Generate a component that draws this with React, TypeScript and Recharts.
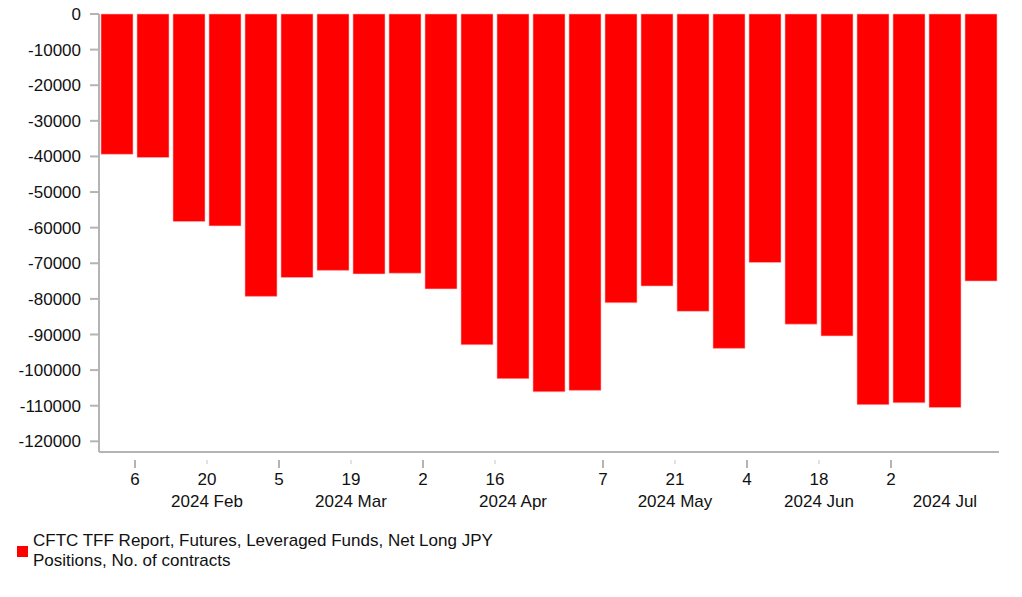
import { Bar, BarChart, XAxis, YAxis } from "recharts";

const weekEnding = [
  "2024-01-30", "2024-02-06", "2024-02-13", "2024-02-20", "2024-02-27",
  "2024-03-05", "2024-03-12", "2024-03-19", "2024-03-26", "2024-04-02",
  "2024-04-09", "2024-04-16", "2024-04-23", "2024-04-30", "2024-05-07",
  "2024-05-14", "2024-05-21", "2024-05-28", "2024-06-04", "2024-06-11",
  "2024-06-18", "2024-06-25", "2024-07-02", "2024-07-09", "2024-07-16",
];
const netLong = [
  -39400, -40300, -58300, -59500, -79300,
  -74000, -72000, -73000, -72800, -77200,
  -92900, -102400, -106100, -105700, -81100,
  -76400, -83500, -93900, -69800, -87100,
  -90400, -109700, -109200, -110500, -75000,
];
const yTicks = [0, -10000, -20000, -30000, -40000, -50000, -60000, -70000, -80000, -90000, -100000, -110000, -120000];
const majorDays = ["2024-02-06", "2024-03-05", "2024-04-02", "2024-05-07", "2024-06-04", "2024-07-02"];
const minorDays = ["2024-02-20", "2024-03-19", "2024-04-16", "2024-05-21", "2024-06-18"];
const monthLabels = [
  { at: "2024-02-20", text: "2024 Feb", shift: 0 },
  { at: "2024-03-19", text: "2024 Mar", shift: 0 },
  { at: "2024-04-16", text: "2024 Apr", shift: 0.5 },
  { at: "2024-05-21", text: "2024 May", shift: 0 },
  { at: "2024-06-18", text: "2024 Jun", shift: 0 },
  { at: "2024-07-09", text: "2024 Jul", shift: 0.5 },
];
const seriesName = "CFTC TFF Report, Futures, Leveraged Funds, Net Long JPY Positions, No. of contracts";

const data = weekEnding.map((d, i) => ({ date: d, value: netLong[i] }));
const font = "'Liberation Sans', Arial, sans-serif";
const ink = "#111";

function DateTick(props: any) {
  const { x, y, payload, width } = props;
  const band = width / weekEnding.length;
  const d: string = payload.value;
  const left = x - band / 2;
  const day = String(Number(d.slice(8)));
  const major = majorDays.includes(d);
  const minor = minorDays.includes(d);
  const month = monthLabels.find((m) => m.at === d);
  return (
    <g>
      {major && <line x1={left} x2={left} y1={y} y2={y + 8} stroke="#b4b4b4" strokeWidth={2} />}
      {minor && <line x1={left} x2={left} y1={y} y2={y + 4} stroke="#e2e2e2" strokeWidth={2} />}
      {(major || minor) && (
        <text x={left} y={y + 25} textAnchor="middle" fontSize={17} fill={ink} fontFamily={font}>
          {day}
        </text>
      )}
      {month && (
        <text x={left + month.shift * band} y={y + 47} textAnchor="middle" fontSize={17} fill={ink} fontFamily={font}>
          {month.text}
        </text>
      )}
    </g>
  );
}

export default function App() {
  return (
    <div style={{ position: "relative", width: 1022, height: 597, background: "#fff" }}>
      <style>{`body{margin:0}`}</style>
      <BarChart
        width={1022}
        height={520}
        data={data}
        margin={{ top: 14, right: 23, bottom: 0, left: 0 }}
        barCategoryGap={2}
      >
        <XAxis
          dataKey="date"
          interval={0}
          height={68}
          tickLine={false}
          axisLine={{ stroke: "#b4b4b4", strokeWidth: 2 }}
          tick={<DateTick />}
        />
        <YAxis
          width={99}
          domain={[-123000, 0]}
          ticks={yTicks}
          interval={0}
          tickSize={9}
          tickMargin={9}
          axisLine={{ stroke: "#b4b4b4", strokeWidth: 2 }}
          tickLine={{ stroke: "#b4b4b4", strokeWidth: 2 }}
          tick={{ fontSize: 17, fill: ink, fontFamily: font }}
        />
        <Bar dataKey="value" fill="#ff0000" stroke="#ffb3b3" strokeWidth={0.6} isAnimationActive={false} />
      </BarChart>
      <div style={{ position: "absolute", left: 17, top: 531, display: "flex", alignItems: "center", fontFamily: font, fontSize: 17, color: ink, lineHeight: "20px" }}>
        <div style={{ width: 11, height: 11, background: "#ff0000", marginRight: 5, flexShrink: 0 }} />
        <div style={{ width: 480 }}>{seriesName}</div>
      </div>
    </div>
  );
}
